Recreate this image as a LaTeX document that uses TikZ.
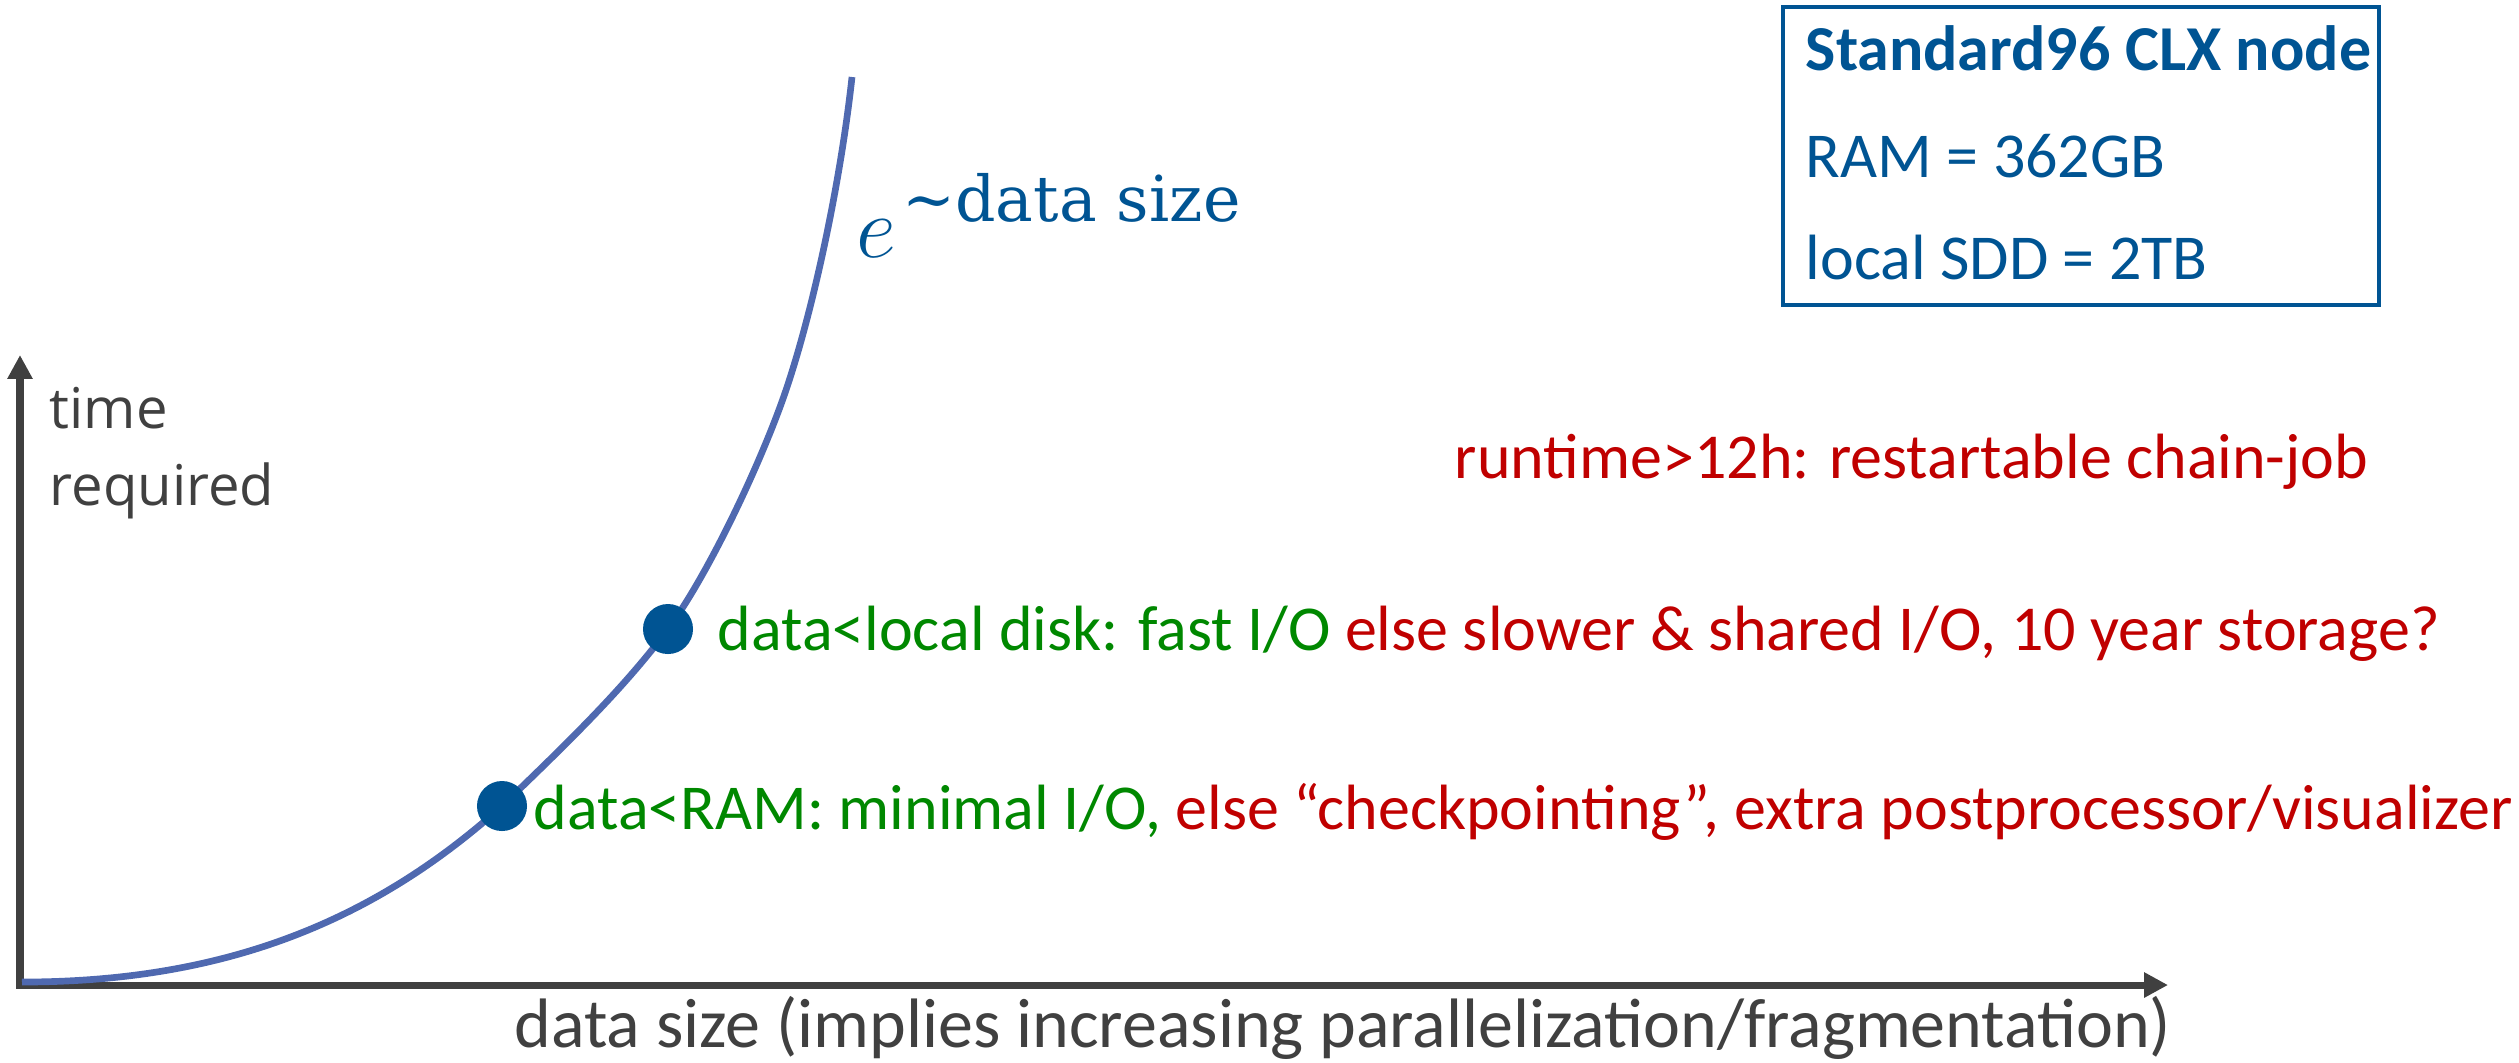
\documentclass[tikz,border=0pt]{standalone}
\usepackage{fontspec}
\newfontfamily\calibri{Carlito}
\newfontfamily\osans{Open Sans}
\newfontfamily\dserif{DejaVu Serif}
\usetikzlibrary{arrows.meta}
\definecolor{axisgrey}{RGB}{64,64,64}
\definecolor{curveblue}{RGB}{79,105,176}
\definecolor{darkblue}{RGB}{0,84,147}
\definecolor{okgreen}{RGB}{0,136,0}
\definecolor{badred}{RGB}{192,0,0}
\begin{document}
\begin{tikzpicture}[x=0.01cm,y=-0.01cm,
  txt/.style={inner sep=0pt, anchor=base west, font=\calibri\fontsize{18.2}{22}\selectfont},
  axisline/.style={draw=axisgrey, line width=2pt, line join=miter,
    {Triangle[width=6.8pt,length=6.8pt]}-{Triangle[width=6.8pt,length=6.8pt]}},
  curveline/.style={draw=curveblue, line width=1.9pt},
  dotmark/.style={circle, fill=darkblue, inner sep=0pt, minimum size=0.5cm},
  infobox/.style={draw=darkblue, line width=1.1pt}]
\useasboundingbox (0,0) rectangle (2519,1062);

% axes
\coordinate (ytip) at (20,355);
\coordinate (origin) at (20,985);
\coordinate (xtip) at (2168,985);
\draw[axisline] (ytip) -- (origin) -- (xtip);

% curve
\coordinate (cstart) at (22,982);
\coordinate (cmid) at (780,407);
\coordinate (cend) at (852,77);
\coordinate (pram) at (502,806);
\coordinate (pdisk) at (668,629);
\draw[curveline] (cstart) .. controls (222,982) and (372,923) .. (pram)
  .. controls (560,750) and (623,690) .. (pdisk)
  .. controls (705,579) and (753,480) .. (cmid)
  .. controls (810,326) and (840,187) .. (cend);

% dots
\node[dotmark] (dram) at (pram) {};
\node[dotmark] (ddisk) at (pdisk) {};

% axis labels
\node[inner sep=0pt, anchor=base west, text=axisgrey, align=left,
  font=\osans\fontsize{16}{21.9}\selectfont] (ylab) at (49,505) {time\\required};
\node[txt, text=axisgrey, font=\calibri\fontsize{19.9}{22}\selectfont] (xlab) at (514,1047) {data size (implies increasing parallelization/fragmentation)};

% formula
\node[inner sep=0pt, anchor=base west, text=darkblue] (formula) at (856,257)
  {\fontsize{30}{34}\selectfont$e$\hspace{1.7pt}\raisebox{10pt}{\dserif\fontsize{18}{20}\selectfont ∼data size}};

% annotations
\node[txt] (tdisk) at (717,650) {\textcolor{okgreen}{data<local disk: fast I/O} \textcolor{badred}{else slower \& shared I/O, 10 year storage?}};
\node[txt] (tram) at (533,829) {\textcolor{okgreen}{data<RAM: minimal I/O,} \textcolor{badred}{else “checkpointing”, extra postprocessor/visualizer}};
\node[txt, text=badred] (truntime) at (1454,478) {runtime>12h: restartable chain-job};

% info box
\draw[infobox] (1783,7) rectangle (2379,305);
\node[txt, text=darkblue, font=\calibri\bfseries\fontsize{18.2}{22}\selectfont] (btitle) at (1805,70) {Standard96 CLX node};
\node[txt, text=darkblue] (bram) at (1805,177) {RAM = 362GB};
\node[txt, text=darkblue] (bssd) at (1805,279) {local SDD = 2TB};
\end{tikzpicture}
\end{document}
